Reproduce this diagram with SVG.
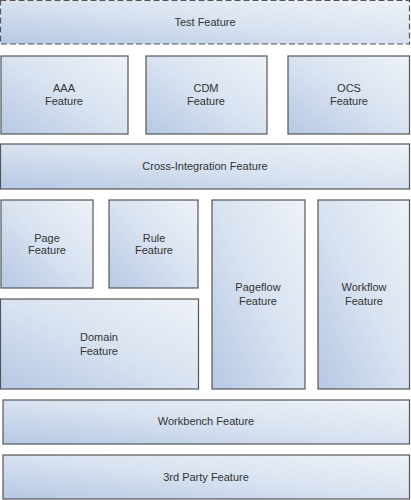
<svg xmlns="http://www.w3.org/2000/svg" width="411" height="500" viewBox="0 0 411 500">
<defs>
<linearGradient id="g" x1="0" y1="1" x2="1" y2="0">
<stop offset="0" stop-color="#b6c8e4"/>
<stop offset="0.5" stop-color="#d8e2f0"/>
<stop offset="1" stop-color="#eef2f8"/>
</linearGradient>
<style>
rect.b{fill:url(#g);stroke:#555;stroke-width:1.2}
rect.d{fill:url(#g);stroke:#555;stroke-width:1.2;stroke-dasharray:6,3}
text{font-family:"Liberation Sans",Arial,sans-serif;font-size:11px;fill:#333;text-anchor:middle}
</style>
</defs>
<rect width="411" height="500" fill="#fff"/>
<g id="test"><rect class="d" x="0.5" y="0.5" width="409" height="43.5"/><text x="205" y="26">Test Feature</text></g>
<g id="aaa"><rect class="b" x="1" y="56" width="127" height="78"/><text x="64" y="92">AAA</text><text x="64" y="105">Feature</text></g>
<g id="cdm"><rect class="b" x="146" y="56" width="121" height="78"/><text x="206" y="92">CDM</text><text x="206" y="105">Feature</text></g>
<g id="ocs"><rect class="b" x="288" y="56" width="121.5" height="78"/><text x="349" y="92">OCS</text><text x="349" y="105">Feature</text></g>
<g id="cross"><rect class="b" x="0.5" y="144" width="409" height="45"/><text x="205" y="170">Cross-Integration Feature</text></g>
<g id="page"><rect class="b" x="1" y="200" width="92" height="88"/><text x="47" y="242">Page</text><text x="47" y="254">Feature</text></g>
<g id="rule"><rect class="b" x="109" y="200" width="89" height="88"/><text x="154" y="242">Rule</text><text x="154" y="254">Feature</text></g>
<g id="pageflow"><rect class="b" x="212" y="200" width="93" height="189"/><text x="258" y="291">Pageflow</text><text x="258" y="305">Feature</text></g>
<g id="workflow"><rect class="b" x="318" y="200" width="91.5" height="189"/><text x="364" y="291">Workflow</text><text x="364" y="305">Feature</text></g>
<g id="domain"><rect class="b" x="0.5" y="299" width="198" height="90"/><text x="99" y="341">Domain</text><text x="99" y="355">Feature</text></g>
<g id="workbench"><rect class="b" x="3" y="400" width="406.5" height="44"/><text x="206" y="425">Workbench Feature</text></g>
<g id="thirdparty"><rect class="b" x="3" y="455" width="406.5" height="44"/><text x="206" y="481">3rd Party Feature</text></g>
<g id="connectors"></g>
</svg>
